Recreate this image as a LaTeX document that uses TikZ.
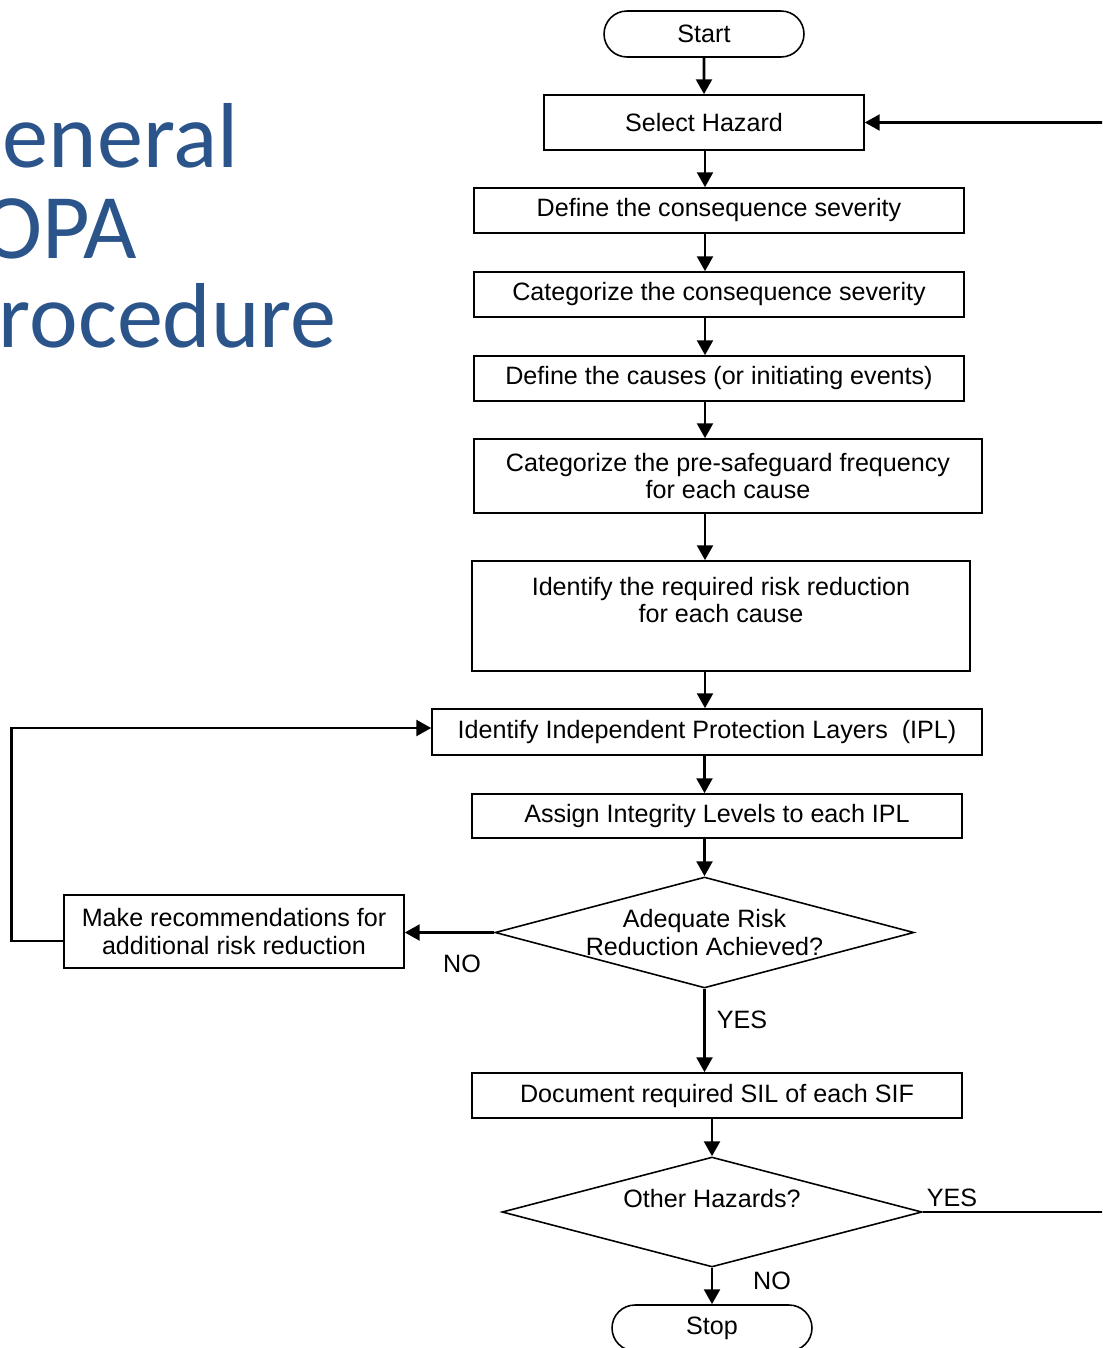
\documentclass[tikz,border=0pt]{standalone}
\usepackage{fontspec}
\setmainfont{Liberation Sans}
\newfontfamily\titlefont{Carlito}
\usetikzlibrary{arrows.meta,shapes.geometric,shapes.misc}
\definecolor{titleblue}{RGB}{42,84,138}
\begin{document}
\begin{tikzpicture}[x=0.02cm,y=-0.02cm,
  txt/.style={font=\fontsize{14.3pt}{15.5pt}\selectfont},
  box/.style={txt,draw,line width=0.9pt,inner sep=0pt,align=center},
  term/.style={box,rounded rectangle,minimum width=4cm,minimum height=0.92cm},
  decision/.style={box,diamond,aspect=3.78},
  arr/.style={line width=1.6pt,-{Triangle[length=8.5pt,width=9pt]}},
  plain/.style={line width=1.4pt},
  title/.style={font=\titlefont\fontsize{52.5pt}{52pt}\selectfont,text=titleblue,anchor=base east,inner sep=0pt}]
\useasboundingbox (0,0) rectangle (1102,1348);
\clip (0,0) rectangle (1102,1348);

% slide title
\node[title] (t1) at (239,168) {General};
\node[title] (t2) at (137,258) {LOPA};
\node[title] (t3) at (337,347) {Procedure};

% main column
\coordinate (spine) at (705,0);
\coordinate (far) at (1115,0);
\node[term] (start) at (704,34) {Start};
\node[box,minimum width=6.4cm,minimum height=1.1cm] (sel) at (704,122.5) {Select Hazard};
\node[box,minimum width=9.8cm,minimum height=0.9cm] (def1) at (719,210.5) {Define the consequence severity};
\node[box,minimum width=9.8cm,minimum height=0.9cm] (cat1) at (719,294.5) {Categorize the consequence severity};
\node[box,minimum width=9.8cm,minimum height=0.9cm] (causes) at (719,378.5) {Define the causes (or initiating events)};
\node[box,minimum width=10.16cm,minimum height=1.48cm] (freq) at (728,476) {Categorize the pre-safeguard frequency\\for each cause};
\node[box,minimum width=9.96cm,minimum height=2.2cm,
  label={[txt,align=center,anchor=north,yshift=-0.22cm]north:{Identify the required risk reduction\\for each cause}}] (req) at (721,616) {};
\node[box,minimum width=11cm,minimum height=0.92cm] (ipl) at (707,732) {Identify Independent Protection Layers\ \ (IPL)};
\node[box,minimum width=9.8cm,minimum height=0.88cm] (assign) at (717,816) {Assign Integrity Levels to each IPL};
\node[decision,minimum width=8.38cm,minimum height=2.22cm] (d1) at (704.5,932.5)
  {\makebox[0pt]{Adequate Risk}\\\makebox[0pt]{Reduction Achieved?}};
\node[box,minimum width=6.8cm,minimum height=1.46cm] (recs) at (234,931.5)
  {Make recommendations for\\additional risk reduction};
\node[box,minimum width=9.8cm,minimum height=0.9cm] (doc) at (717,1095.5) {Document required SIL of each SIF};
\node[decision,minimum width=8.4cm,minimum height=2.2cm,
  label={[txt,yshift=0.27cm]center:Other Hazards?}] (d2) at (712,1212) {};
\node[term] (stop) at (712,1328) {Stop};

% connectors down the column
\draw[arr] (start) -- (sel);
\draw[arr] (spine |- sel.south) -- (spine |- def1.north);
\draw[arr] (spine |- def1.south) -- (spine |- cat1.north);
\draw[arr] (spine |- cat1.south) -- (spine |- causes.north);
\draw[arr] (spine |- causes.south) -- (spine |- freq.north);
\draw[arr] (spine |- freq.south) -- (spine |- req.north);
\draw[arr] (spine |- req.south) -- (spine |- ipl.north);
\draw[arr] (d1.north |- ipl.south) -- (d1.north |- assign.north);
\draw[arr] (d1.north |- assign.south) -- (d1.north);
\draw[arr] (d1.south) -- (d1.south |- doc.north);
\node[txt] (yes1) at (742,1020) {YES};
\draw[arr] (d2.north |- doc.south) -- (d2.north);
\draw[arr] (d2.south) -- (stop.north);
\node[txt] (no2) at (772,1281) {NO};

% NO branch and loop back to the IPL step
\draw[arr] (d1.west) -- (d1.west -| recs.east);
\node[txt] (no1) at (462,964) {NO};
\draw[arr] ([yshift=-0.19cm]recs.west) -- ++(-52,0) |- ([yshift=0.08cm]ipl.west);

% YES branch back to hazard selection
\draw[plain] (d2.east) -- (d2.east -| far);
\draw[arr] (far |- d2.east) -- (far |- sel.east) -- (sel.east);
\node[txt] (yes2) at (952,1198) {YES};
\end{tikzpicture}
\end{document}
